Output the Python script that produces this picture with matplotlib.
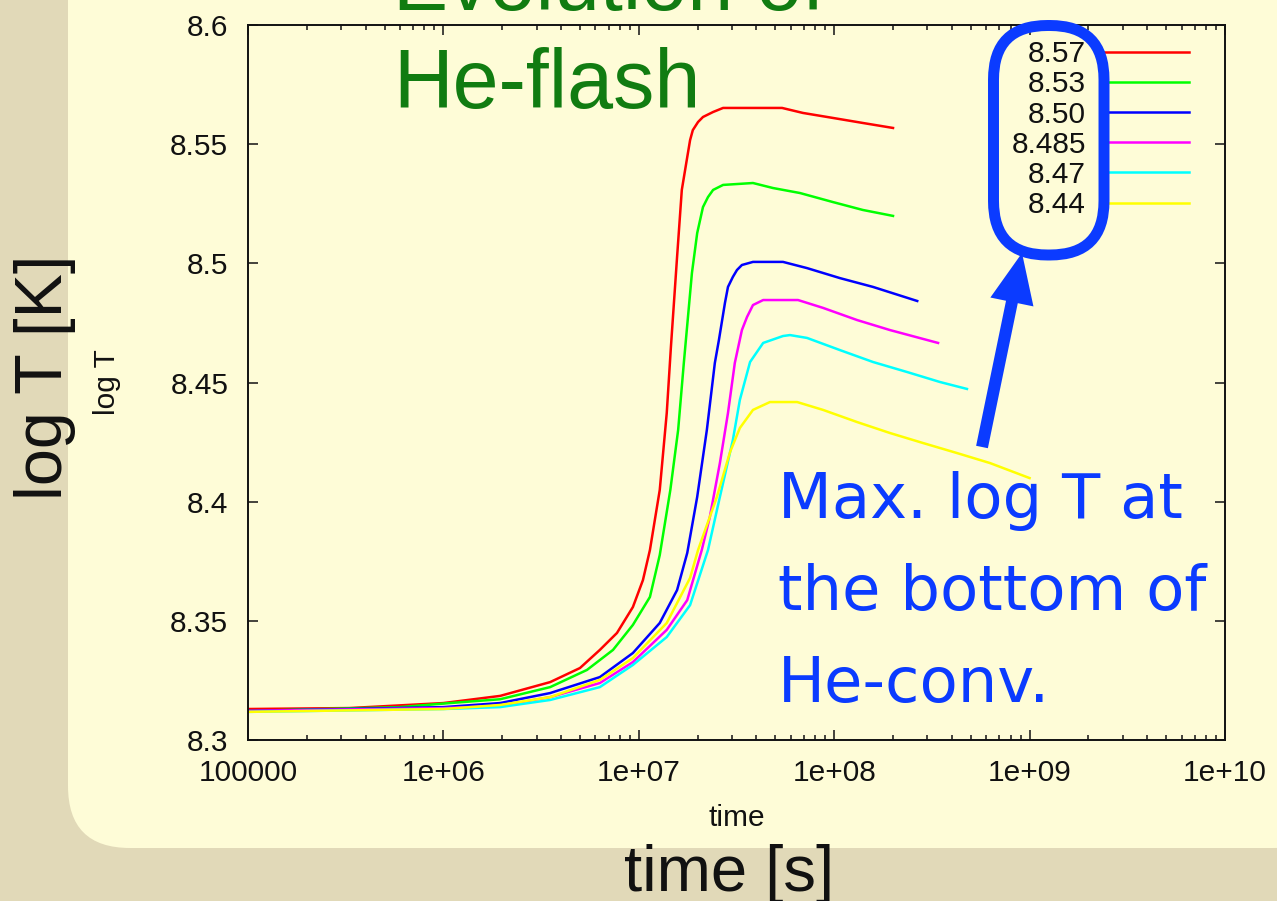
import matplotlib
matplotlib.use("Agg")
import matplotlib.pyplot as plt
from matplotlib.patches import FancyBboxPatch, FancyArrow
from matplotlib.ticker import FixedLocator, FixedFormatter, LogLocator, NullFormatter

# ---------------------------------------------------------------------------
# Data: time [s] and log T at the bottom of the He convective zone
# ---------------------------------------------------------------------------
time_857 = [1.0e5, 3.3e5, 1.0e6, 1.95e6, 3.52e6, 5.0e6, 6.32e6, 7.73e6, 9.33e6,
            1.05e7, 1.14e7, 1.28e7, 1.39e7, 1.46e7, 1.57e7, 1.66e7, 1.77e7,
            1.83e7, 1.89e7, 2.01e7, 2.13e7, 2.40e7, 2.70e7, 5.41e7, 6.92e7,
            9.86e7, 1.40e8, 2.0e8]
logT_857 = [8.3130, 8.3134, 8.3155, 8.3185, 8.3243, 8.3302, 8.3378, 8.3449, 8.3558,
            8.3671, 8.3797, 8.4049, 8.4372, 8.4649, 8.5027, 8.5308, 8.5446,
            8.5517, 8.5559, 8.5593, 8.5614, 8.5635, 8.5652, 8.5652, 8.5631,
            8.5610, 8.5589, 8.5568]

time_853 = [1.0e5, 6.0e5, 1.08e6, 1.95e6, 3.52e6, 5.43e6, 7.38e6, 9.33e6, 1.14e7,
            1.28e7, 1.45e7, 1.59e7, 1.70e7, 1.87e7, 1.99e7, 2.13e7, 2.26e7,
            2.40e7, 2.70e7, 3.84e7, 4.86e7, 6.68e7, 9.86e7, 1.40e8, 2.0e8]
logT_853 = [8.3122, 8.3138, 8.3155, 8.3171, 8.3222, 8.3294, 8.3378, 8.3483, 8.3600,
            8.3776, 8.4049, 8.4301, 8.4582, 8.4959, 8.5127, 8.5236, 8.5278,
            8.5308, 8.5329, 8.5337, 8.5316, 8.5295, 8.5257, 8.5224, 8.5199]

time_850 = [1.0e5, 1.0e6, 1.95e6, 3.52e6, 6.32e6, 9.33e6, 1.28e7, 1.57e7, 1.77e7,
            1.99e7, 2.23e7, 2.45e7, 2.57e7, 2.76e7, 2.86e7, 3.03e7, 3.18e7,
            3.37e7, 3.84e7, 5.47e7, 7.26e7, 1.07e8, 1.58e8, 2.66e8]
logT_850 = [8.3122, 8.3138, 8.3155, 8.3197, 8.3264, 8.3365, 8.3491, 8.3629, 8.3785,
            8.4020, 8.4301, 8.4582, 8.4678, 8.4834, 8.4901, 8.4943, 8.4972,
            8.4993, 8.5006, 8.5006, 8.4980, 8.4938, 8.4901, 8.4842]

time_8485 = [1.0e5, 1.0e6, 1.95e6, 3.52e6, 6.32e6, 9.33e6, 1.39e7, 1.77e7, 2.10e7,
             2.31e7, 2.60e7, 2.86e7, 3.10e7, 3.37e7, 3.58e7, 3.84e7, 4.33e7,
             6.53e7, 8.77e7, 1.31e8, 1.93e8, 3.40e8]
logT_8485 = [8.3122, 8.3134, 8.3143, 8.3180, 8.3239, 8.3327, 8.3462, 8.3587, 8.3797,
             8.3936, 8.4162, 8.4372, 8.4582, 8.4720, 8.4775, 8.4825, 8.4846,
             8.4846, 8.4813, 8.4762, 8.4720, 8.4666]

time_847 = [1.0e5, 1.0e6, 1.95e6, 3.52e6, 6.32e6, 9.33e6, 1.39e7, 1.83e7, 2.26e7,
            2.60e7, 3.03e7, 3.29e7, 3.71e7, 4.33e7, 5.47e7, 5.94e7, 7.26e7,
            1.07e8, 1.58e8, 2.36e8, 3.48e8, 4.78e8]
logT_847 = [8.3118, 8.3130, 8.3138, 8.3168, 8.3222, 8.3315, 8.3432, 8.3566, 8.3797,
            8.4020, 8.4259, 8.4427, 8.4586, 8.4666, 8.4695, 8.4699, 8.4687,
            8.4636, 8.4586, 8.4544, 8.4502, 8.4473]

time_844 = [1.0e5, 1.0e6, 1.95e6, 3.52e6, 6.32e6, 9.33e6, 1.39e7, 1.83e7, 2.01e7,
            2.51e7, 2.93e7, 3.29e7, 3.84e7, 4.69e7, 6.46e7, 8.77e7, 1.31e8,
            1.93e8, 2.85e8, 4.25e8, 6.27e8, 1.0e9]
logT_844 = [8.3118, 8.3130, 8.3147, 8.3180, 8.3252, 8.3344, 8.3491, 8.3680, 8.3797,
            8.4020, 8.4208, 8.4309, 8.4385, 8.4418, 8.4418, 8.4385, 8.4334,
            8.4288, 8.4246, 8.4204, 8.4162, 8.4099]

series_labels = ["8.57", "8.53", "8.50", "8.485", "8.47", "8.44"]
series_colors = ["#ff0000", "#00ff00", "#0000ff", "#ff00ff", "#00ffff", "#ffff00"]
series_time = [time_857, time_853, time_850, time_8485, time_847, time_844]
series_logT = [logT_857, logT_853, logT_850, logT_8485, logT_847, logT_844]

xtick_values = [1e5, 1e6, 1e7, 1e8, 1e9, 1e10]
xtick_labels = ["100000", "1e+06", "1e+07", "1e+08", "1e+09", "1e+10"]
ytick_values = [8.3, 8.35, 8.4, 8.45, 8.5, 8.55, 8.6]
ytick_labels = ["8.3", "8.35", "8.4", "8.45", "8.5", "8.55", "8.6"]

# ---------------------------------------------------------------------------
# Figure, slide background and panel
# ---------------------------------------------------------------------------
W, H = 1277, 901
SLIDE_BG = "#e1d9b8"
PANEL_BG = "#fefcd7"
NOTE_BLUE = "#0b3bff"
TITLE_GREEN = "#117c11"
PLOT_FONT = "Liberation Sans"
PLOT_SIZE = 21.5

fig = plt.figure(figsize=(W / 100, H / 100), dpi=100, facecolor=SLIDE_BG)

bg = fig.add_axes([0, 0, 1, 1], zorder=0)
bg.set_xlim(0, W)
bg.set_ylim(H, 0)
bg.axis("off")
bg.add_patch(FancyBboxPatch((68, -150), 1335 - 68, 848 + 150,
                            boxstyle="round,pad=0,rounding_size=62",
                            fc=PANEL_BG, ec="none"))

# ---------------------------------------------------------------------------
# Main plot
# ---------------------------------------------------------------------------
ax = fig.add_axes([248 / W, 1 - 740 / H, 977 / W, 715 / H], zorder=2)
ax.set_facecolor("none")
ax.set_xscale("log")

for t, y, lab, col in zip(series_time, series_logT, series_labels, series_colors):
    ax.plot(t, y, color=col, lw=1.8, label=lab, solid_joinstyle="round")

ax.set_xlim(1e5, 1e10)
ax.set_ylim(8.3, 8.6)
ax.xaxis.set_major_locator(FixedLocator(xtick_values))
ax.xaxis.set_major_formatter(FixedFormatter(xtick_labels))
ax.xaxis.set_minor_locator(LogLocator(base=10, subs=range(2, 10), numticks=50))
ax.xaxis.set_minor_formatter(NullFormatter())
ax.yaxis.set_major_locator(FixedLocator(ytick_values))
ax.yaxis.set_major_formatter(FixedFormatter(ytick_labels))

for sp in ax.spines.values():
    sp.set_linewidth(1.4)
    sp.set_color("#111111")

ax.tick_params(which="both", direction="in", top=True, right=True,
               color="#111111", width=1.1)
ax.tick_params(which="major", length=7.2)
ax.tick_params(which="minor", length=3.6)
ax.tick_params(axis="y", which="major", pad=14.2)
ax.tick_params(axis="x", which="major", pad=14.0)
for lbl in ax.get_xticklabels() + ax.get_yticklabels():
    lbl.set_fontfamily(PLOT_FONT)
    lbl.set_fontsize(PLOT_SIZE)
    lbl.set_color("#111111")

ax.set_xlabel("time", fontfamily=PLOT_FONT, fontsize=PLOT_SIZE, color="#111111")
ax.set_ylabel("log T", fontfamily=PLOT_FONT, fontsize=PLOT_SIZE, color="#111111")
ax.xaxis.set_label_coords(0.5, -0.090)
ax.yaxis.set_label_coords(-0.130, 0.5)

leg = ax.legend(loc="upper right", bbox_to_anchor=(0.9632, 0.9788),
                markerfirst=False, frameon=False, borderpad=0, borderaxespad=0,
                handlelength=2.85, handletextpad=0.60, labelspacing=0.073,
                prop={"family": PLOT_FONT, "size": PLOT_SIZE})
for txt in leg.get_texts():
    txt.set_color("#111111")

# ---------------------------------------------------------------------------
# Slide annotations on top of the plot (pixel coordinates)
# ---------------------------------------------------------------------------
ov = fig.add_axes([0, 0, 1, 1], zorder=3)
ov.set_xlim(0, W)
ov.set_ylim(H, 0)
ov.axis("off")

ov.text(393, 10, "Evolution of", color=TITLE_GREEN, fontfamily=PLOT_FONT,
        fontsize=59.5, ha="left", va="baseline")
ov.text(393, 108, "He-flash", color=TITLE_GREEN, fontfamily=PLOT_FONT,
        fontsize=59.5, ha="left", va="baseline")

ov.text(62, 377, "log T [K]", color="#111111", fontfamily=PLOT_FONT, fontsize=48,
        rotation=90, rotation_mode="anchor", ha="center", va="baseline")
ov.text(729, 891, "time [s]", color="#111111", fontfamily=PLOT_FONT, fontsize=47,
        ha="center", va="baseline")

for ypos, line in zip([518, 610, 702], ["Max. log T at", "the bottom of", "He-conv."]):
    ov.text(778, ypos, line, color=NOTE_BLUE, fontfamily="DejaVu Sans",
            fontsize=45, ha="left", va="baseline")

ov.add_patch(FancyBboxPatch((993.5, 25.5), 110.5, 229.5,
                            boxstyle="round,pad=0,rounding_size=54",
                            fc="none", ec=NOTE_BLUE, lw=7.9))
ov.add_patch(FancyArrow(982, 447, 40, -194, width=12, head_width=44,
                        head_length=50, length_includes_head=True,
                        fc=NOTE_BLUE, ec="none"))

fig.savefig("out.png", dpi=100, facecolor=SLIDE_BG)
